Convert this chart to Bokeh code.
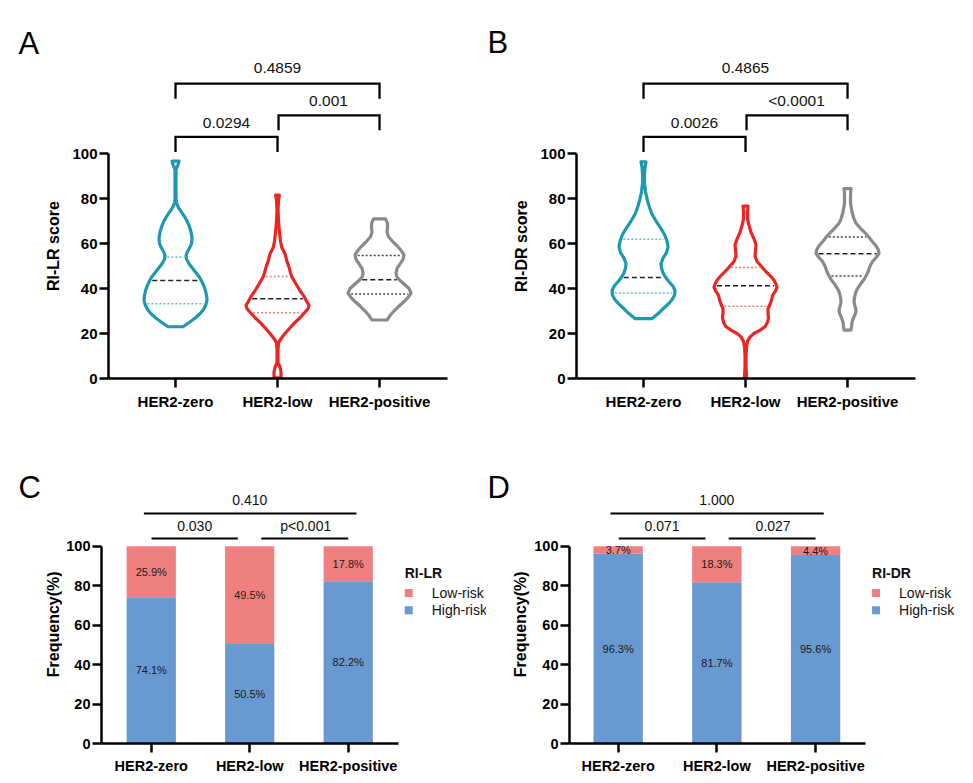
import numpy as np
from bokeh.plotting import figure
from bokeh.models import Range1d, FixedTicker
from bokeh.layouts import column, row
from bokeh.embed import file_html
from bokeh.resources import INLINE
from bokeh.core.properties import value

GROUPS = ["HER2-zero", "HER2-low", "HER2-positive"]

# ---- Violin outlines (score level, relative half-width; widest = 33) ----
LR_ZERO_Y = [96.6, 95, 93, 91, 87, 83, 80, 78, 76, 74, 72, 70, 68, 66, 64, 62, 60, 58, 56, 54.5, 53, 51, 49, 47, 45, 43, 41, 39, 37, 35, 33, 31, 29, 27, 25, 23]
LR_ZERO_W = [5, 4, 2, 0.8, 0.8, 1, 1.5, 2.5, 4.5, 7.5, 10.5, 13, 15, 16.5, 17.5, 18, 17.5, 15.5, 13, 12, 12.5, 15, 18.5, 22, 25.5, 28, 30, 31.5, 32.5, 33, 32, 30, 26.5, 21.5, 15.5, 9]
LR_LOW_Y = [81.5, 79, 75, 70, 65, 61, 58, 55.5, 52, 49.5, 47, 45, 42, 39, 36.5, 34, 32.5, 31, 29, 27, 24.5, 22, 20, 18, 16, 13, 9, 7, 5, 3, 0.3]
LR_LOW_W = [3.3, 2.5, 2, 2.5, 3.5, 4.5, 6, 9, 11, 13, 14.5, 16, 20, 24, 28, 31, 33, 32, 28, 24, 18, 13, 9, 5.5, 2.5, 1, 1, 2, 4, 5, 5]
LR_POS_Y = [71, 69, 67, 65, 63, 61, 59, 57, 55, 53, 51, 49, 47, 45.5, 44, 42, 40, 38, 36, 34, 32, 30, 28, 26]
LR_POS_W = [7.5, 9.5, 9.5, 9, 10.5, 14.5, 19, 23, 26, 25, 22, 19, 18, 18.5, 21, 26, 31, 33, 30, 25.5, 20.5, 16, 12, 9]

DR_ZERO_Y = [96.3, 94, 91, 87, 83, 79, 76, 73, 70, 67, 64, 61, 58.5, 56, 53.5, 51, 49, 47, 45, 43, 41, 39, 37, 35, 33, 31, 29, 27, 26.6]
DR_ZERO_W = [4, 3, 2.5, 2.5, 3.5, 5.5, 7.5, 10, 14, 18.5, 22.5, 25, 26, 24.5, 21, 19, 19.5, 21, 23.5, 27, 31, 33, 32.5, 30, 26, 21, 16.5, 11, 10]
DR_LOW_Y = [76.6, 74, 71, 68, 65, 62, 59.5, 57, 54.5, 52, 50, 48, 46, 44, 42, 40.5, 39, 37, 35, 33, 31, 29, 27, 25, 23, 21.5, 20, 18.5, 16.5, 14, 10, 5, 1, 0.3]
DR_LOW_W = [4, 3.5, 3.5, 5, 7, 10, 12, 11.5, 11, 13, 17, 21, 25.5, 29.5, 32, 33, 31.5, 28.5, 27.5, 26, 24, 24, 24.5, 23.5, 21, 16, 10, 6, 3.5, 2.5, 2, 2, 2.5, 2.5]
DR_POS_Y = [84.4, 82, 78, 74, 71, 69, 67, 65, 63, 61, 59, 57, 55.5, 54, 52, 50, 48, 46, 44, 42, 40, 38, 36, 34, 32, 30.5, 29, 27, 25, 23, 21.5]
DR_POS_W = [5, 4.5, 4.5, 6, 8, 10, 14, 18.5, 22.5, 26, 30, 32.5, 33, 30.5, 26.5, 24, 22.5, 20.5, 18, 14.5, 11.5, 9.5, 8.5, 8, 9, 10, 9.5, 7.5, 6, 5.5, 5]

# quartiles per group (zero, low, positive)
LR_Q1 = [33.2, 29.2, 37.6]
LR_MED = [43.6, 35.4, 43.9]
LR_Q3 = [54.0, 45.3, 54.7]
DR_Q1 = [38.0, 32.1, 45.6]
DR_MED = [44.9, 41.2, 55.5]
DR_Q3 = [61.9, 49.3, 62.9]

LR_P = ["0.0294", "0.001", "0.4859"]       # zero-low, low-pos, zero-pos
DR_P = ["0.0026", "<0.0001", "0.4865"]

# ---- Stacked bars ----
LR_HIGH = [74.1, 50.5, 82.2]
LR_LOW = [25.9, 49.5, 17.8]
DR_HIGH = [96.3, 81.7, 95.6]
DR_LOW = [3.7, 18.3, 4.4]
C_P = ["0.030", "p<0.001", "0.410"]
D_P = ["0.071", "0.027", "1.000"]

FONT = "Liberation Sans"
VCOL = ["#1C98B0", "#EC2424", "#8A8A8A"]
QCOL = ["#5DBBDA", "#F5846F", "#444444"]
PINK = "#F08080"
BLUE = "#6899D0"


def base_fig(w, h, xr, yr):
    p = figure(width=w, height=h, x_range=Range1d(*xr), y_range=Range1d(*yr),
               output_backend="svg", toolbar_location=None, tools="")
    p.min_border = 0
    p.outline_line_color = None
    p.background_fill_color = "white"
    p.border_fill_color = "white"
    return p


def side_fig(w, h, letter, lx, lbase, title, tx, ty):
    """Narrow strip holding the panel letter and the rotated y-axis title (pixel coords)."""
    p = base_fig(w, h, (0, w), (h, 0))
    p.axis.visible = False
    p.grid.visible = False
    p.text(x=[lx], y=[lbase], text=[letter], text_font=value(FONT), text_font_size="31px",
           text_align="left", text_baseline="alphabetic", text_color="black")
    p.text(x=[tx], y=[ty], text=[title], text_font=value(FONT), text_font_size="16px",
           text_font_style="bold", angle=np.pi / 2, text_align="center",
           text_baseline="middle", text_color="black")
    return p


def make_fig(w, h, left, bottom, xr, yr, xend, lab_size):
    p = base_fig(w, h, xr, yr)
    p.min_border_left = left
    p.min_border_bottom = bottom
    p.min_border_top = 10
    p.min_border_right = 0
    p.grid.visible = False
    for ax in (p.xaxis[0], p.yaxis[0]):
        ax.axis_line_width = 2.5
        ax.axis_line_color = "black"
        ax.major_tick_line_width = 2.5
        ax.major_tick_line_color = "black"
        ax.major_tick_in = 0
        ax.major_tick_out = 9
        ax.minor_tick_line_color = None
        ax.major_label_text_font = FONT
        ax.major_label_text_font_style = "bold"
        ax.major_label_text_font_size = lab_size
        ax.major_label_text_color = "black"
    p.yaxis.ticker = FixedTicker(ticks=[0, 20, 40, 60, 80, 100])
    p.yaxis.bounds = (0, 100)
    p.yaxis.major_label_standoff = 2
    p.xaxis.ticker = FixedTicker(ticks=[1, 2, 3])
    p.xaxis.major_label_overrides = {1: GROUPS[0], 2: GROUPS[1], 3: GROUPS[2]}
    p.xaxis.bounds = (xr[0], xend)
    p.xaxis.major_label_standoff = 5
    return p


def violin(p, cx, ys, ws, color, qcolor, q1, med, q3):
    ys = np.array(ys, dtype=float)
    w = np.maximum(np.array(ws, dtype=float) - 1.5, 0.5) / 102.0
    xs = np.concatenate([cx + w, (cx - w)[::-1]])
    yy = np.concatenate([ys, ys[::-1]])
    p.patch(xs, yy, fill_color=None, line_color=color, line_width=3.2, line_join="round")
    order = np.argsort(ys)
    for q, dash, c in ((q1, "2 2", qcolor), (q3, "2 2", qcolor), (med, "5 3", "#222222")):
        hw = np.interp(q, ys[order], w[order]) - 2.5 / 102
        p.segment(x0=[cx - hw], y0=[q], x1=[cx + hw], y1=[q], line_color=c,
                  line_width=1.5, line_dash=dash)


def bracket(p, x1, x2, ytop, ybot, text, ty, tx):
    p.line([x1, x1, x2, x2], [ybot, ytop, ytop, ybot], line_color="black", line_width=2.3,
           line_join="miter")
    p.text(x=[tx], y=[ty], text=[text], text_font=value(FONT), text_font_size="15.5px",
           text_align="center", text_baseline="middle", text_color="#111111")


def violin_panel(w, left, xr, profiles, q1s, meds, q3s, pvals):
    p = make_fig(w, 415, left, 37, xr, (0, 163.6), 3.667, "15px")
    for i, (ys, ws) in enumerate(profiles):
        violin(p, i + 1, ys, ws, VCOL[i], QCOL[i], q1s[i], meds[i], q3s[i])
    bracket(p, 1, 2, 107.4, 100.7, pvals[0], 113.7, 1.5)
    bracket(p, 2.01, 3, 117.0, 110.4, pvals[1], 123.5, 2.5)
    bracket(p, 1, 3, 131.1, 124.4, pvals[2], 138.1, 2.0)
    return p


def bar_panel(w, left, xr, spacing, legend_title, high, low, pv, lines):
    p = make_fig(w, 368, left, 40, xr, (0, 161.2), 3.51, "14.5px")
    x = [1, 2, 3]
    p.vbar(x=x, bottom=0, top=high, width=0.5, fill_color=BLUE, line_color=None)
    p.vbar(x=x, bottom=high, top=[h + l for h, l in zip(high, low)], width=0.5,
           fill_color=PINK, line_color=None)
    p.text(x=x, y=[h / 2 for h in high], text=["%.1f%%" % v for v in high],
           text_font=value(FONT), text_font_size="11px", text_align="center",
           text_baseline="middle", text_color="#1a1a1a")
    p.text(x=x, y=[h + l / 2 for h, l in zip(high, low)], text=["%.1f%%" % v for v in low],
           text_font=value(FONT), text_font_size="11px", text_align="center",
           text_baseline="middle", text_color="#1a1a1a")
    (a1, a2), (b1, b2), (c1, c2) = lines
    p.segment(x0=[a1, b1, c1], y0=[103.9, 103.9, 116.6], x1=[a2, b2, c2],
              y1=[103.9, 103.9, 116.6], line_color="black", line_width=2)
    p.text(x=[(a1 + a2) / 2, (b1 + b2) / 2 + 0.01, 2.0], y=[110.3, 110.3, 123.3], text=pv,
           text_font=value(FONT), text_font_size="14px", text_align="center",
           text_baseline="middle", text_color="#111111")
    # legend
    lx = 3.0 + (56.5 / spacing)
    p.text(x=[lx], y=[86.2], text=[legend_title], text_font=value(FONT),
           text_font_size="14px", text_font_style="bold", text_align="left",
           text_baseline="middle", text_color="#111111")
    p.scatter(x=[lx + 4 / spacing] * 2, y=[76.3, 67.6], marker="square", size=8,
              fill_color=[PINK, BLUE], line_color=None)
    p.text(x=[lx + 27 / spacing] * 2, y=[76.3, 67.6], text=["Low-risk", "High-risk"],
           text_font=value(FONT), text_font_size="14px", text_align="left",
           text_baseline="middle", text_color="#111111")
    return p


sA = side_fig(64, 415, "A", 18, 37, "RI-LR score", 52.5, 265.7)
pA = violin_panel(416, 44, (0.343, 3.990),
                  [(LR_ZERO_Y, LR_ZERO_W), (LR_LOW_Y, LR_LOW_W), (LR_POS_Y, LR_POS_W)],
                  LR_Q1, LR_MED, LR_Q3, LR_P)
sB = side_fig(50, 415, "B", 7, 36.5, "RI-DR score", 41, 265.7)
pB = violin_panel(443, 46, (0.343, 4.235),
                  [(DR_ZERO_Y, DR_ZERO_W), (DR_LOW_Y, DR_LOW_W), (DR_POS_Y, DR_POS_W)],
                  DR_Q1, DR_MED, DR_Q3, DR_P)
sC = side_fig(62, 368, "C", 18, 72, "Frequency(%)", 53, 230)
pC = bar_panel(424, 39, (0.495, 4.404), 98.5, "RI-LR", LR_HIGH, LR_LOW, C_P,
               [(1.003, 1.879), (2.117, 3.0), (0.925, 3.084)])
sD = side_fig(45, 368, "D", 1, 72, "Frequency(%)", 34, 230)
pD = bar_panel(442, 38, (0.507, 4.600), 98.7, "RI-DR", DR_HIGH, DR_LOW, D_P,
               [(1.006, 1.885), (2.12, 3.0), (0.922, 3.083)])

layout = column(row(sA, pA, sB, pB), row(sC, pC, sD, pD))
open("out.html", "w").write(file_html(layout, INLINE))
